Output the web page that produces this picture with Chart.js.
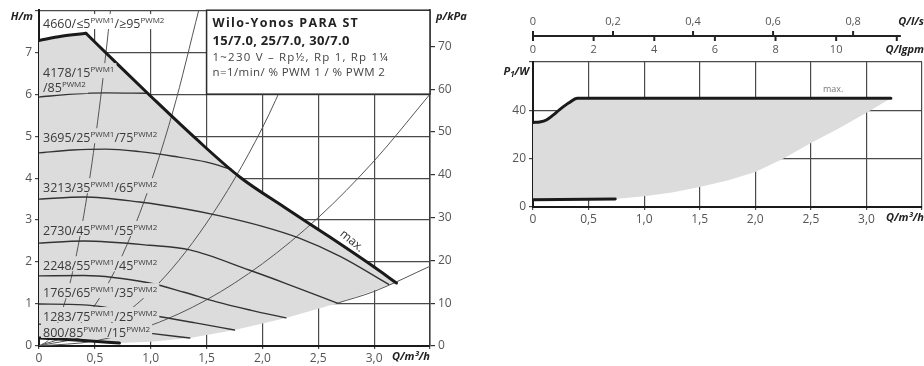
<!DOCTYPE html>
<html>
<head>
<meta charset="utf-8">
<script src="https://cdn.jsdelivr.net/npm/chart.js@4.4.1/dist/chart.umd.min.js"></script>
<style>
  html, body { margin: 0; padding: 0; background: #fff; }
  #wrap { position: relative; width: 924px; height: 366px; overflow: hidden; }
  #left { position: absolute; left: 0; top: 0; }
  #right { position: absolute; left: 480px; top: 0; }
</style>
</head>
<body>
<div id="wrap">
  <canvas id="left" width="480" height="366"></canvas>
  <canvas id="right" width="444" height="232"></canvas>
</div>
<script>
// ---------- Data ------------------------------------------------------------

// Left diagram: delivery head H/m over flow Q/m³/h
// max curve: short rise to the power limit, then the limit itself
const Q_MAX_RISE = [0, 0.2, 0.42];
const H_MAX_RISE = [7.28, 7.38, 7.45];
const Q_MAX_FALL = [0.42, 0.7, 1.0, 1.4, 1.8, 2.2, 2.6, 3.0, 3.2];
const H_MAX_FALL = [7.45, 6.72, 5.95, 4.95, 4.02, 3.3, 2.6, 1.88, 1.5];

const Q_4178 = [0, 0.3, 0.6, 0.97];
const H_4178 = [5.93, 6.0, 6.03, 6.02];
const Q_3695 = [0, 0.3, 0.6, 0.9, 1.2, 1.5, 1.72];
const H_3695 = [4.6, 4.67, 4.69, 4.63, 4.52, 4.38, 4.21];
const Q_3213 = [0, 0.4, 0.9, 1.3, 1.62, 2.0, 2.33, 2.7, 3.13];
const H_3213 = [3.5, 3.55, 3.43, 3.27, 3.1, 2.85, 2.57, 2.13, 1.47];
const Q_2730 = [0, 0.4, 0.99, 1.35, 1.88, 2.2, 2.67];
const H_2730 = [2.45, 2.5, 2.4, 2.29, 1.81, 1.5, 1.02];
const Q_2248 = [0, 0.4, 0.99, 1.3, 1.59, 1.9, 2.21];
const H_2248 = [1.67, 1.68, 1.5, 1.28, 1.05, 0.85, 0.67];
const Q_1765 = [0, 0.4, 0.99, 1.4, 1.75];
const H_1765 = [1.0, 0.98, 0.74, 0.55, 0.38];
const Q_1283 = [0, 0.5, 1.0, 1.35];
const H_1283 = [0.52, 0.45, 0.3, 0.19];
const Q_800 = [0, 0.4, 0.72];
const H_800 = [0.19, 0.13, 0.07];

// lower edge of the operating field (right to left)
const Q_LOW = [3.2, 3.13, 2.67, 2.21, 1.75, 1.35, 1.0, 0.72];
const H_LOW = [1.5, 1.45, 1.02, 0.67, 0.38, 0.19, 0.1, 0.07];
const Q_LOW_EXT = [2.67, 3.0, 3.5];
const H_LOW_EXT = [1.02, 1.3, 1.9];

// system curves (thin parabolas)
const Q_SYS1 = [0, 0.1, 0.2, 0.3, 0.4, 0.5, 0.6, 0.64];
const H_SYS1 = [0, 0.19, 0.78, 1.75, 3.1, 4.85, 7.0, 8.0];
const Q_SYS2 = [0, 0.3, 0.6, 0.9, 1.2, 1.43];
const H_SYS2 = [0, 0.35, 1.4, 3.15, 5.6, 8.0];
const Q_SYS3 = [0, 0.5, 1.0, 1.5, 2.0, 2.47];
const H_SYS3 = [0, 0.33, 1.3, 2.93, 5.2, 8.0];
const Q_SYS4 = [0, 0.5, 1.0, 1.5, 2.0, 2.5, 3.0, 3.5];
const H_SYS4 = [0, 0.12, 0.49, 1.1, 1.96, 3.06, 4.41, 6.0];

// curve labels: normal text / superscript alternating
const SPEED_LABELS = [
  ['4660/≤5', 'PWM1', '/≥95', 'PWM2'],
  ['4178/15', 'PWM1'],
  ['/85', 'PWM2'],
  ['3695/25', 'PWM1', '/75', 'PWM2'],
  ['3213/35', 'PWM1', '/65', 'PWM2'],
  ['2730/45', 'PWM1', '/55', 'PWM2'],
  ['2248/55', 'PWM1', '/45', 'PWM2'],
  ['1765/65', 'PWM1', '/35', 'PWM2'],
  ['1283/75', 'PWM1', '/25', 'PWM2'],
  ['800/85', 'PWM1', '/15', 'PWM2'],
];

const TITLE_LINES = [
  'Wilo-Yonos PARA ST',
  '15/7.0, 25/7.0, 30/7.0',
  '1~230 V – Rp½, Rp 1, Rp 1¼',
  'n=1/min/ % PWM 1 / % PWM 2',
];

// Right diagram: power input P1/W over flow Q/m³/h
const Q_P1MAX = [0, 0.06, 0.12, 0.18, 0.24, 0.32, 0.4, 3.22];
const P_P1MAX = [35, 35.2, 36, 38, 40.3, 43, 45, 45];
const Q_P1MIN = [0, 0.74];
const P_P1MIN = [3.0, 3.3];
const Q_P1LOW = [3.22, 3.0, 2.75, 2.5, 2.25, 2.0, 1.75, 1.5, 1.25, 1.0, 0.74];
const P_P1LOW = [45, 39, 32.5, 26.5, 20, 14.5, 11, 8.3, 6, 4.5, 3.3];

// secondary flow scales on top of the power diagram
const LS_TICKS = [0, 0.2, 0.4, 0.6, 0.8];
const GPM_TICKS = [0, 2, 4, 6, 8, 10, 12];
const M3H_PER_LS = 3.6;
const M3H_PER_GPM = 0.272765;
const KPA_PER_M = 9.81;

// ---------- Styling -------------------------------------------------------

const FONT = "'Open Sans', 'Noto Sans', sans-serif";
const GRAY_FIELD = '#dcdcdc';
const LINE_DARK = '#1a1a1a';
const LINE_THIN = '#333';
const TICK_COLOR = '#555';

// label placement (head value of text centre)
const LABEL_H = [7.67, 6.5, 6.14, 4.95, 3.76, 2.74, 1.9, 1.26, 0.69, 0.31];

Chart.defaults.font.family = FONT;
Chart.defaults.font.size = 12;

function pts(qs, vs) {
  return qs.map((q, i) => ({ x: q, y: vs[i] }));
}

function curve(qs, vs, width, color, order) {
  return {
    data: pts(qs, vs),
    borderColor: color,
    borderWidth: width,
    pointRadius: 0,
    fill: false,
    cubicInterpolationMode: 'monotone',
    borderCapStyle: 'round',
    order,
  };
}

function field(points) {
  return {
    data: points,
    borderColor: 'rgba(0,0,0,0)',
    borderWidth: 1,
    backgroundColor: GRAY_FIELD,
    pointRadius: 0,
    fill: 'shape',
    tension: 0,
    order: 20,
  };
}

function fmtQ(v) {
  if (v >= 3.5) return '';
  return v === 0 ? '0' : v.toFixed(1).replace('.', ',');
}

function axisX(afterFit) {
  return {
    type: 'linear', min: 0, max: 3.5, z: 1,
    ticks: { stepSize: 0.5, color: TICK_COLOR, padding: 2, maxRotation: 0, autoSkip: false, callback: fmtQ },
    grid: { color: '#4a4a4a', lineWidth: 1.2, tickLength: 3 },
    border: { color: LINE_DARK, width: 2 },
    afterFit,
  };
}

function drawRich(ctx, x, y, parts, bg) {
  const big = '12.5px ' + FONT;
  const small = '8px ' + FONT;
  let w = 0;
  parts.forEach((t, i) => { ctx.font = i % 2 ? small : big; w += ctx.measureText(t).width; });
  if (bg) {
    ctx.fillStyle = bg;
    ctx.fillRect(x - 2, y - 10, w + 4, 15);
  }
  let cx = x;
  ctx.textAlign = 'left';
  ctx.textBaseline = 'alphabetic';
  ctx.fillStyle = '#3a3a3a';
  parts.forEach((t, i) => {
    ctx.font = i % 2 ? small : big;
    ctx.fillText(t, cx, i % 2 ? y - 1 : y + 4);
    cx += ctx.measureText(t).width;
  });
}

// ---------- Left chart: head -------------------------------------------------

const headOverlay = {
  id: 'headOverlay',
  afterDraw(chart) {
    const { ctx, scales: { x, y } } = chart;
    ctx.save();

    // title box
    const bx = x.getPixelForValue(1.5), by = y.getPixelForValue(8);
    const bw = x.getPixelForValue(3.5) - bx, bh = y.getPixelForValue(6) - by;
    ctx.fillStyle = '#fff';
    ctx.fillRect(bx, by, bw, bh);
    ctx.strokeStyle = '#2a2a2a';
    ctx.lineWidth = 1.5;
    ctx.strokeRect(bx, by, bw, bh);
    ctx.fillStyle = '#222';
    ctx.textAlign = 'left';
    ctx.textBaseline = 'middle';
    ctx.font = 'bold 12.5px ' + FONT;
    ctx.letterSpacing = '1.3px';
    ctx.fillText(TITLE_LINES[0], bx + 6, by + 13);
    ctx.font = 'bold 13px ' + FONT;
    ctx.letterSpacing = '0.3px';
    ctx.fillText(TITLE_LINES[1], bx + 6, by + 31);
    ctx.fillStyle = '#444';
    ctx.font = '11.5px ' + FONT;
    ctx.letterSpacing = '1.2px';
    ctx.fillText(TITLE_LINES[2], bx + 6, by + 48);
    ctx.letterSpacing = '0.4px';
    ctx.fillText(TITLE_LINES[3], bx + 6, by + 63);
    ctx.letterSpacing = '0px';

    // curve labels
    SPEED_LABELS.forEach((parts, i) => {
      drawRich(ctx, x.getPixelForValue(0) + 4, y.getPixelForValue(LABEL_H[i]), parts, i === 0 ? '#fff' : GRAY_FIELD);
    });

    // "max." along the limit curve
    ctx.save();
    ctx.translate(x.getPixelForValue(2.8), y.getPixelForValue(2.5));
    ctx.rotate(40 * Math.PI / 180);
    ctx.font = '12px ' + FONT;
    ctx.fillStyle = '#333';
    ctx.textAlign = 'center';
    ctx.textBaseline = 'middle';
    ctx.fillText('max.', 0, 0);
    ctx.restore();

    // axis titles
    ctx.fillStyle = '#222';
    ctx.font = 'italic bold 11px ' + FONT;
    ctx.textBaseline = 'middle';
    ctx.textAlign = 'right';
    ctx.fillText('H/m', x.left - 6, 17);
    ctx.textAlign = 'left';
    ctx.fillText('p/kPa', x.right + 6, 17);
    ctx.textAlign = 'right';
    ctx.fillText('Q/m³/h', x.right, y.bottom + 11);
    ctx.restore();
  },
};

new Chart(document.getElementById('left'), {
  type: 'line',
  data: {
    datasets: [
      curve(Q_MAX_RISE, H_MAX_RISE, 3, LINE_DARK, 0),
      curve(Q_MAX_FALL, H_MAX_FALL, 3, LINE_DARK, 0),
      curve(Q_800, H_800, 3, LINE_DARK, 0),
      curve(Q_4178, H_4178, 1.4, LINE_THIN, 1),
      curve(Q_3695, H_3695, 1.4, LINE_THIN, 1),
      curve(Q_3213, H_3213, 1.4, LINE_THIN, 1),
      curve(Q_2730, H_2730, 1.4, LINE_THIN, 1),
      curve(Q_2248, H_2248, 1.4, LINE_THIN, 1),
      curve(Q_1765, H_1765, 1.4, LINE_THIN, 1),
      curve(Q_1283, H_1283, 1.4, LINE_THIN, 1),
      curve(Q_LOW_EXT, H_LOW_EXT, 1, '#555', 2),
      curve(Q_SYS1, H_SYS1, 1, '#555', 3),
      curve(Q_SYS2, H_SYS2, 1, '#555', 3),
      curve(Q_SYS3, H_SYS3, 1, '#555', 3),
      curve(Q_SYS4, H_SYS4, 1, '#555', 3),
      field([
        ...pts(Q_MAX_RISE, H_MAX_RISE),
        ...pts(Q_MAX_FALL, H_MAX_FALL).slice(1),
        ...pts(Q_LOW, H_LOW),
        ...pts(Q_800, H_800).reverse(),
      ]),
    ],
  },
  options: {
    responsive: false,
    animation: false,
    layout: { padding: { top: 10, left: 0, right: 0, bottom: 0 } },
    plugins: { legend: { display: false }, tooltip: { enabled: false } },
    scales: {
      x: axisX((s) => { s.height = 20; }),
      y: {
        min: 0, max: 8, z: 1,
        ticks: { stepSize: 1, color: TICK_COLOR, padding: 3, callback: (v) => (v >= 8 ? '' : v) },
        grid: { color: '#4a4a4a', lineWidth: 1.2, tickLength: 4 },
        border: { color: LINE_DARK, width: 2 },
        afterFit: (s) => { s.width = 39; },
      },
      y2: {
        position: 'right', min: 0, max: 8 * KPA_PER_M, z: 1,
        ticks: { stepSize: 10, includeBounds: false, color: TICK_COLOR, padding: 3 },
        grid: { drawOnChartArea: false, color: '#333', lineWidth: 1.2, tickLength: 5 },
        border: { color: '#3a3a3a', width: 1.5 },
        afterFit: (s) => { s.width = 50; },
      },
    },
  },
  plugins: [headOverlay],
});

// ---------- Right chart: power input -----------------------------------------

const powerOverlay = {
  id: 'powerOverlay',
  afterDraw(chart) {
    const { ctx, scales: { x, y } } = chart;
    const axisY = 36;
    ctx.save();

    // double flow scale above the diagram
    ctx.strokeStyle = '#222';
    ctx.lineWidth = 2;
    ctx.beginPath();
    ctx.moveTo(x.getPixelForValue(0), axisY);
    ctx.lineTo(x.getPixelForValue(3.31), axisY);
    ctx.stroke();
    ctx.fillStyle = TICK_COLOR;
    ctx.font = '11px ' + FONT;
    ctx.textAlign = 'center';
    ctx.textBaseline = 'middle';
    LS_TICKS.forEach((v) => {
      const px = x.getPixelForValue(v * M3H_PER_LS);
      ctx.beginPath();
      ctx.moveTo(px, axisY);
      ctx.lineTo(px, axisY - 5);
      ctx.stroke();
      ctx.fillText(v === 0 ? '0' : v.toFixed(1).replace('.', ','), px, axisY - 14);
    });
    GPM_TICKS.forEach((v) => {
      const px = x.getPixelForValue(v * M3H_PER_GPM);
      ctx.beginPath();
      ctx.moveTo(px, axisY);
      ctx.lineTo(px, axisY + 5);
      ctx.stroke();
      if (v < 12) ctx.fillText(String(v), px, axisY + 14);
    });

    // titles
    ctx.fillStyle = '#222';
    ctx.font = 'italic bold 11px ' + FONT;
    ctx.textAlign = 'right';
    ctx.fillText('Q/l/s', chart.width, axisY - 14);
    ctx.fillText('Q/lgpm', chart.width, axisY + 14);
    ctx.fillText('Q/m³/h', chart.width, y.bottom + 11);

    const px = x.left - 4, py = y.top + 10;
    ctx.textAlign = 'left';
    const wP = ctx.measureText('P').width;
    ctx.font = 'italic bold 8px ' + FONT;
    const w1 = ctx.measureText('1').width;
    ctx.font = 'italic bold 11px ' + FONT;
    const wW = ctx.measureText('/W').width;
    const x0 = px - (wP + w1 + wW);
    ctx.fillText('P', x0, py);
    ctx.font = 'italic bold 8px ' + FONT;
    ctx.fillText('1', x0 + wP, py + 3);
    ctx.font = 'italic bold 11px ' + FONT;
    ctx.fillText('/W', x0 + wP + w1, py);

    ctx.fillStyle = '#777';
    ctx.font = '9px ' + FONT;
    ctx.textAlign = 'center';
    ctx.fillText('max.', x.getPixelForValue(2.7), y.getPixelForValue(48.5));
    ctx.restore();
  },
};

new Chart(document.getElementById('right'), {
  type: 'line',
  data: {
    datasets: [
      curve(Q_P1MAX, P_P1MAX, 3, LINE_DARK, 0),
      curve(Q_P1MIN, P_P1MIN, 3, LINE_DARK, 0),
      field([...pts(Q_P1MAX, P_P1MAX), ...pts(Q_P1LOW, P_P1LOW), ...pts(Q_P1MIN, P_P1MIN).reverse()]),
    ],
  },
  options: {
    responsive: false,
    animation: false,
    layout: { padding: { top: 62, left: 0, right: 2, bottom: 0 } },
    plugins: { legend: { display: false }, tooltip: { enabled: false } },
    scales: {
      x: axisX((s) => { s.height = 25; }),
      y: {
        min: 0, max: 60, z: 1,
        ticks: { stepSize: 20, color: TICK_COLOR, padding: 3, callback: (v) => (v >= 60 ? '' : v) },
        grid: { color: '#4a4a4a', lineWidth: 1.2, tickLength: 4 },
        border: { color: LINE_DARK, width: 2 },
        afterFit: (s) => { s.width = 53; },
      },
    },
  },
  plugins: [powerOverlay],
});
</script>
</body>
</html>
